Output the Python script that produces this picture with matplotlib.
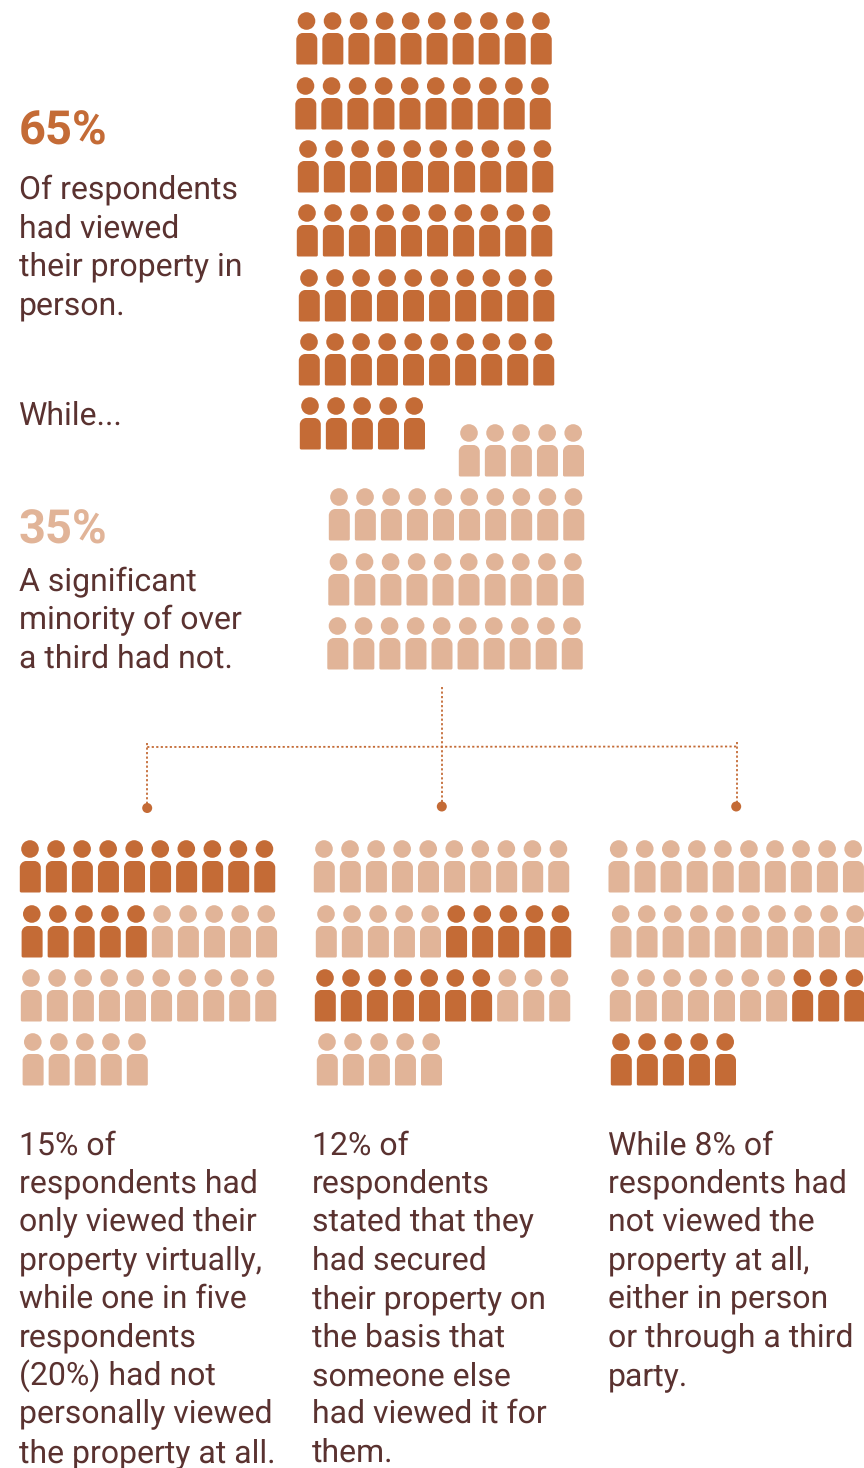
# pictogram of how respondents viewed their property
import matplotlib
matplotlib.use('Agg')
import matplotlib.pyplot as plt
from matplotlib.patches import Circle, PathPatch
from matplotlib.path import Path

DARK = '#c46b36'
LIGHT = '#e1b498'
TEXT = '#5a3230'

plt.rcParams['font.family'] = ['Roboto', 'DejaVu Sans']
plt.rcParams['text.hinting'] = 'none'
plt.rcParams['text.hinting_factor'] = 1

# share of respondents, one icon per percent
viewed = 65
not_viewed = 35

# each panel splits the 35 icons into runs of (count, highlighted)
panel_virtual = [(15, True), (20, False)]
panel_someone_else = [(15, False), (12, True), (8, False)]
panel_not_at_all = [(27, False), (8, True)]

viewed_lines = ['Of respondents', 'had viewed', 'their property in', 'person.']
not_viewed_lines = ['A significant', 'minority of over', 'a third had not.']
virtual_lines = ['15% of', 'respondents had', 'only viewed their', 'property virtually,',
                 'while one in five', 'respondents', '(20%) had not',
                 'personally viewed', 'the property at all.']
someone_else_lines = ['12% of', 'respondents', 'stated that they', 'had secured',
                      'their property on', 'the basis that', 'someone else',
                      'had viewed it for', 'them.']
not_at_all_lines = ['While 8% of', 'respondents had', 'not viewed the', 'property at all,',
                    'either in person', 'or through a third', 'party.']


def body_path(x, y, w=21, h=31.5, top=6.5, bot=1.5):
    # rounded shoulders, nearly square feet
    l, r, b = x - w / 2, x + w / 2, y + h
    k = 0.45
    verts = [(l + bot, b), (r - bot, b), (r, b), (r, b - bot),
             (r, y + top), (r, y + top * k), (r - top * k, y), (r - top, y),
             (l + top, y), (l + top * k, y), (l, y + top * k), (l, y + top),
             (l, b - bot), (l, b), (l + bot, b), (l + bot, b)]
    codes = [Path.MOVETO, Path.LINETO, Path.CURVE3, Path.CURVE3,
             Path.LINETO, Path.CURVE4, Path.CURVE4, Path.CURVE4,
             Path.LINETO, Path.CURVE4, Path.CURVE4, Path.CURVE4,
             Path.LINETO, Path.CURVE3, Path.CURVE3, Path.CLOSEPOLY]
    return Path(verts, codes)


def person(ax, x, y, color):
    ax.add_patch(Circle((x, y), 8.8, fc=color, ec='none'))
    ax.add_patch(PathPatch(body_path(x + 0.3, y + 12), fc=color, ec='none'))


def icon_row(ax, x0, y, colors, step=26.05):
    for i, c in enumerate(colors):
        person(ax, x0 + i * step, y, c)


def expand(runs):
    out = []
    for n, on in runs:
        out += [DARK if on else LIGHT] * n
    return out


def text_block(ax, x, baselines, lines, size=23.0):
    for yb, s in zip(baselines, lines):
        ax.text(x, yb, s, fontsize=size, color=TEXT, va='baseline', ha='left')


fig = plt.figure(figsize=(8.64, 14.68), dpi=100)
ax = fig.add_axes([0, 0, 1, 1])
ax.set_xlim(0, 864)
ax.set_ylim(1468, 0)
ax.axis('off')

# top block, 65 then 35
top_colors = [DARK] * viewed
top_rows = [(306.5, 21), (305.5, 86), (308, 149), (307, 213), (309, 278), (309, 342), (310, 406)]
for i, (x0, y) in enumerate(top_rows):
    icon_row(ax, x0, y, top_colors[i * 10:(i + 1) * 10])

low_colors = [LIGHT] * not_viewed
low_rows = [(469, 433, 5), (339, 497, 10), (338.5, 562, 10), (337.5, 626, 10)]
pos = 0
for x0, y, n in low_rows:
    icon_row(ax, x0, y, low_colors[pos:pos + n])
    pos += n

# dotted connector down to the three panels
dots = dict(color=DARK, lw=1.3, linestyle=(0, (1.2, 1.3)), zorder=1)
ax.plot([442.2, 442.2], [687, 805], **dots)
ax.plot([147.2, 737], [747, 746.5], **dots)
ax.plot([147.2, 147.2], [743, 806], **dots)
ax.plot([736.8, 736.8], [742, 805], **dots)
for x, y in [(147.2, 808), (441.8, 806.5), (736.2, 806.5)]:
    ax.add_patch(Circle((x, y), 5, fc=DARK, ec='none', zorder=2))

# bottom panels
panels = [
    (panel_virtual, [(30, 849), (31.8, 914), (31, 978), (32.8, 1042)]),
    (panel_someone_else, [(324, 849), (326, 914), (325, 978), (327, 1042)]),
    (panel_not_at_all, [(618.7, 849), (620.7, 914), (620, 978), (621, 1042)]),
]
for runs, rows in panels:
    colors = expand(runs)
    for i, (x0, y) in enumerate(rows):
        icon_row(ax, x0, y, colors[i * 10:(i + 1) * 10])

# text
ax.text(19, 144.5, '65%', fontsize=33.5, fontweight='bold', color=DARK, va='baseline')
text_block(ax, 19, [198.4, 237.4, 275.4, 314.4], viewed_lines)
text_block(ax, 18.5, [425], ['While...'])
ax.text(19, 543.5, '35%', fontsize=33.5, fontweight='bold', color=LIGHT, va='baseline')
text_block(ax, 19, [591, 629, 668], not_viewed_lines)

bottom_y = [1154.2, 1192.6, 1230.6, 1269.6, 1308, 1346.6, 1385.2, 1422.6, 1461.8]
text_block(ax, 19, bottom_y, virtual_lines)
text_block(ax, 312, bottom_y, someone_else_lines)
text_block(ax, 608, bottom_y, not_at_all_lines)

fig.savefig('out.png', dpi=100, facecolor='white')
